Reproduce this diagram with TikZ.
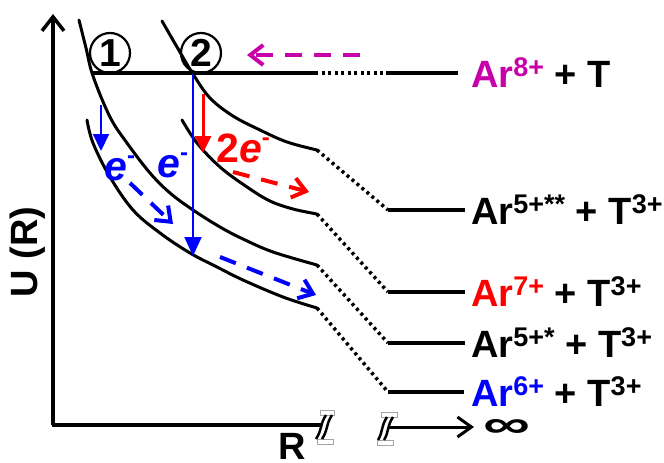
\documentclass[tikz,border=0pt]{standalone}
\usepackage{fontspec}
\setmainfont{Liberation Sans}
\usetikzlibrary{arrows.meta}
\definecolor{mag}{RGB}{200,0,170}
\definecolor{myblue}{RGB}{0,0,255}
\definecolor{myred}{RGB}{255,0,0}
\newcommand\sups[1]{\raisebox{11pt}{\fontsize{27}{27}\selectfont #1}}
\newcommand\eminus{\raisebox{17pt}{\fontsize{24}{24}\selectfont\upshape -}}
\begin{document}
\begin{tikzpicture}[x=1pt,y=-1pt,
  curve/.style={line width=3pt,line cap=round},
  level/.style={line width=3.5pt},
  dots/.style={line width=3.5pt,dash pattern=on 3pt off 3.5pt},
  lbl/.style={anchor=base west,inner sep=0pt,font=\fontsize{38}{40}\selectfont\bfseries},
  elbl/.style={anchor=base west,inner sep=0pt,font=\fontsize{41}{42}\selectfont\bfseries\itshape},
  dasharr/.style={line width=4pt,dash pattern=on 17pt off 12pt,-{Straight Barb[length=13pt,width=20pt]}},
  solidarr/.style={-{Triangle[length=17pt,width=16pt]}},
  axisarr/.style={line width=3.5pt,-{Straight Barb[length=14pt,width=22pt]}},
  circ/.style={circle,draw,line width=2.2pt,minimum size=40pt,inner sep=0pt,font=\fontsize{39}{39}\selectfont\bfseries},
  brk/.style={draw=black!35,fill=white,line width=1pt},
  brkline/.style={line width=2.5pt}
]
\useasboundingbox (0,0) rectangle (664,463);

% axes
\coordinate (O) at (53,425);
\coordinate (Ytop) at (53,14);
\coordinate (Xend) at (321,425);
\draw[axisarr] (O) -- (Ytop);
\draw[line width=4pt] ([xshift=-1.5pt]O) -- (Xend);

% break marks
\draw[brk] (320,410) rectangle (334,415);
\draw[brk] (317,439) rectangle (333,444);
\draw[brkline] (332,415) .. controls (326,424) and (328,430) .. (322,439);
\draw[brkline] (326,415) .. controls (320,424) and (322,430) .. (316,439);
\draw[brk] (381,412) rectangle (397,417);
\draw[brk] (377,440) rectangle (393,445);
\draw[brkline] (393,417) .. controls (387,426) and (389,432) .. (384,440);
\draw[brkline] (387,417) .. controls (381,426) and (383,432) .. (378,440);
\coordinate (Xa) at (388,427);
\coordinate (Xb) at (474,427);
\draw[line width=3pt,-{Straight Barb[length=14pt,width=20pt]}] (Xa) -- (Xb);
\node[inner sep=0pt] (inf) at (507,428) {\resizebox{47pt}{18pt}{\bfseries ∞}};
\node[anchor=base,inner sep=0pt,font=\fontsize{38}{40}\selectfont\bfseries] (Rl) at (292,459) {R};
\node[rotate=90,inner sep=0pt,font=\fontsize{38}{40}\selectfont\bfseries] (Ul) at (28,252) {U (R)};

% curve end points and level starts
\coordinate (c2e) at (317,150);
\coordinate (cRe) at (317,214);
\coordinate (cAe) at (317,265);
\coordinate (cBe) at (317,308);
\coordinate (L8a) at (93,73);
\coordinate (L8b) at (315,73);
\coordinate (L8c) at (386,73);
\coordinate (L8d) at (458,73);
\coordinate (L5ss) at (388,210);
\coordinate (L5ssE) at (465,210);
\coordinate (L7) at (388,292);
\coordinate (L7E) at (465,292);
\coordinate (L5s) at (388,343);
\coordinate (L5sE) at (465,343);
\coordinate (L6) at (388,392);
\coordinate (L6E) at (464,392);

% curves
\draw[curve] plot[smooth,tension=0.6] coordinates {(162,21) (177,47) (193,74) (210,98) (233,116) (260,130) (287,142) (c2e)};
\draw[curve] plot[smooth,tension=0.6] coordinates {(182,120) (197,143) (220,167) (247,187) (270,201) (293,209) (cRe)};
\draw[curve] plot[smooth,tension=0.6] coordinates {(79,20) (86,48) (93,76) (110,117) (127,143) (150,173) (170,193) (193,210) (220,227) (243,239) (273,252) (cAe)};
\draw[curve] plot[smooth,tension=0.6] coordinates {(87,120) (93,143) (110,177) (133,210) (160,233) (190,253) (217,267) (243,280) (283,297) (cBe)};

% levels
\draw[level] (L8a) -- (L8b);
\draw[dots] (L8b) -- (L8c);
\draw[level] (L8c) -- (L8d);
\draw[dots] (c2e) -- (L5ss);
\draw[level] (L5ss) -- (L5ssE);
\draw[dots] (cRe) -- (L7);
\draw[level] (L7) -- (L7E);
\draw[dots] (cAe) -- (L5s);
\draw[level] (L5s) -- (L5sE);
\draw[dots] (cBe) -- (L6);
\draw[level] (L6) -- (L6E);

% labels
\node[lbl] (t8) at (471,87) {\textcolor{mag}{Ar\sups{8+}} + T};
\node[lbl] (t5ss) at (471,224) {Ar\sups{5+**} + T\sups{3+}};
\node[lbl] (t7) at (471,306) {\textcolor{myred}{Ar\sups{7+}} + T\sups{3+}};
\node[lbl] (t5s) at (471,357) {Ar\sups{5+*} + T\sups{3+}};
\node[lbl] (t6) at (471,406) {\textcolor{myblue}{Ar\sups{6+}} + T\sups{3+}};

% circled numbers
\node[circ] (n1) at (110,53) {1};
\node[circ] (n2) at (201,53) {2};

% magenta arrow
\coordinate (m1) at (360,55);
\coordinate (m2) at (247,55);
\draw[dasharr,mag] (m1) -- (m2);

% transitions
\coordinate (b1a) at (101,105);
\coordinate (b1b) at (101,151);
\draw[myblue,line width=2pt,solidarr] (b1a) -- (b1b);
\coordinate (b2a) at (193,74);
\coordinate (b2b) at (193,256);
\draw[myblue,line width=2pt,-{Triangle[length=19pt,width=17pt]}] (b2a) -- (b2b);
\coordinate (r1a) at (203,94);
\coordinate (r1b) at (203,153);
\draw[myred,line width=3pt,solidarr] (r1a) -- (r1b);

\node[elbl,myblue] (e1) at (104,180) {e\eminus};
\node[elbl,myblue] (e2) at (157,177) {e\eminus};
\node[elbl,myred] (e3) at (216,162) {{\upshape 2}e\eminus};

% dashed arrows
\coordinate (d1a) at (130,183);
\coordinate (d1b) at (173,224);
\draw[dasharr,myblue] (d1a) -- (d1b);
\coordinate (d2a) at (220,257);
\coordinate (d2b) at (316,295);
\draw[dasharr,myblue] (d2a) -- (d2b);
\coordinate (d3a) at (233,172);
\coordinate (d3b) at (309,192);
\draw[dasharr,myred] (d3a) -- (d3b);
\end{tikzpicture}
\end{document}
